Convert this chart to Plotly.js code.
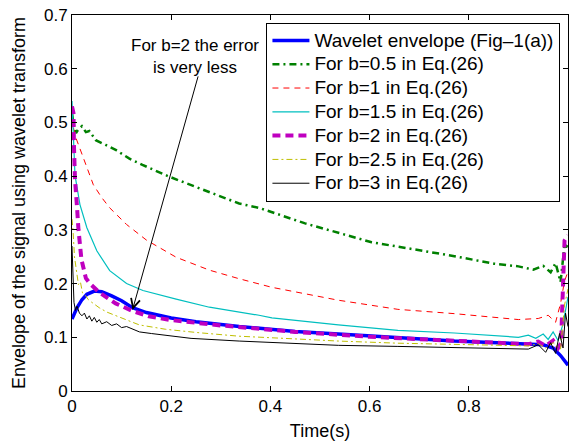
<!DOCTYPE html>
<html>
<head>
<meta charset="utf-8">
<script src="https://cdn.plot.ly/plotly-3.0.1.min.js"></script>
<style>html,body{margin:0;padding:0;background:#fff;}#chart{width:571px;height:443px;}</style>
</head>
<body>
<div id="chart"></div>
<script>
// ---- data ----
var legendNames = [
  "Wavelet envelope (Fig\u20131(a))",
  "For b=0.5 in Eq.(26)",
  "For b=1 in Eq.(26)",
  "For b=1.5 in Eq.(26)",
  "For b=2 in Eq.(26)",
  "For b=2.5 in Eq.(26)",
  "For b=3 in Eq.(26)"
];

var tWavelet = [0, 0.01, 0.02, 0.03, 0.045, 0.06, 0.08, 0.1, 0.122, 0.15, 0.2, 0.25, 0.337, 0.45, 0.537, 0.657, 0.771, 0.858, 0.92, 0.95, 0.97, 0.985, 1.0];
var vWavelet = [0.134, 0.155, 0.170, 0.180, 0.186, 0.185, 0.177, 0.168, 0.155, 0.146, 0.136, 0.129, 0.120, 0.111, 0.106, 0.099, 0.093, 0.090, 0.088, 0.086, 0.080, 0.066, 0.048];

var tB05 = [0, 0.003, 0.008, 0.012, 0.02, 0.028, 0.035, 0.048, 0.068, 0.088, 0.115, 0.142, 0.196, 0.277, 0.337, 0.377, 0.47, 0.604, 0.657, 0.771, 0.851, 0.9, 0.93, 0.95, 0.965, 0.975, 0.985, 0.993, 1.0];
var vB05 = [0.517, 0.498, 0.480, 0.486, 0.493, 0.482, 0.484, 0.467, 0.458, 0.449, 0.433, 0.421, 0.399, 0.371, 0.349, 0.341, 0.312, 0.277, 0.269, 0.251, 0.237, 0.232, 0.226, 0.233, 0.221, 0.238, 0.203, 0.272, 0.268];

var tB1 = [0, 0.003, 0.006, 0.016, 0.03, 0.043, 0.06, 0.076, 0.11, 0.15, 0.21, 0.277, 0.337, 0.403, 0.537, 0.657, 0.771, 0.851, 0.9, 0.94, 0.96, 0.975, 0.985, 0.993, 1.0];
var vB1 = [0.47, 0.49, 0.476, 0.451, 0.415, 0.384, 0.360, 0.341, 0.310, 0.281, 0.249, 0.225, 0.209, 0.193, 0.169, 0.152, 0.144, 0.137, 0.133, 0.135, 0.141, 0.128, 0.163, 0.205, 0.222];

var tB15 = [0, 0.003, 0.006, 0.016, 0.03, 0.05, 0.076, 0.11, 0.143, 0.21, 0.277, 0.377, 0.403, 0.537, 0.657, 0.771, 0.858, 0.9, 0.92, 0.935, 0.95, 0.96, 0.97, 0.98, 0.99, 1.0];
var vB15 = [0.54, 0.46, 0.402, 0.347, 0.304, 0.261, 0.224, 0.200, 0.187, 0.171, 0.156, 0.141, 0.136, 0.123, 0.113, 0.108, 0.102, 0.100, 0.104, 0.098, 0.106, 0.096, 0.110, 0.094, 0.125, 0.175];

var tB2 = [0, 0.003, 0.004, 0.006, 0.01, 0.013, 0.019, 0.028, 0.036, 0.056, 0.088, 0.122, 0.155, 0.2, 0.3, 0.45, 0.6, 0.75, 0.86, 0.92, 0.94, 0.955, 0.97, 0.98, 0.986, 0.993, 1.0];
var vB2 = [0.53, 0.517, 0.455, 0.394, 0.344, 0.301, 0.245, 0.210, 0.200, 0.183, 0.163, 0.149, 0.139, 0.132, 0.122, 0.110, 0.101, 0.094, 0.089, 0.087, 0.092, 0.084, 0.094, 0.080, 0.089, 0.280, 0.290];

var tB25 = [0, 0.002, 0.005, 0.01, 0.013, 0.017, 0.021, 0.027, 0.033, 0.04, 0.055, 0.07, 0.088, 0.122, 0.136, 0.188, 0.25, 0.337, 0.45, 0.537, 0.657, 0.771, 0.86, 0.92, 0.94, 0.955, 0.97, 0.985, 0.993, 1.0];
var vB25 = [0.32, 0.30, 0.25, 0.21, 0.198, 0.203, 0.183, 0.178, 0.170, 0.165, 0.155, 0.147, 0.140, 0.128, 0.123, 0.115, 0.109, 0.102, 0.097, 0.093, 0.089, 0.087, 0.085, 0.084, 0.088, 0.080, 0.090, 0.078, 0.160, 0.190];

var tB3 = [0, 0.002, 0.004, 0.007, 0.01, 0.015, 0.02, 0.025, 0.03, 0.035, 0.04, 0.045, 0.05, 0.055, 0.06, 0.07, 0.08, 0.09, 0.1, 0.11, 0.122, 0.136, 0.16, 0.188, 0.24, 0.337, 0.45, 0.537, 0.657, 0.771, 0.858, 0.92, 0.94, 0.955, 0.965, 0.975, 0.983, 0.99, 0.995, 1.0];
var vB3 = [0.27, 0.20, 0.165, 0.150, 0.158, 0.145, 0.140, 0.145, 0.134, 0.140, 0.130, 0.137, 0.128, 0.133, 0.125, 0.129, 0.122, 0.125, 0.118, 0.120, 0.115, 0.110, 0.107, 0.104, 0.098, 0.093, 0.088, 0.085, 0.083, 0.081, 0.079, 0.078, 0.086, 0.072, 0.090, 0.070, 0.107, 0.080, 0.145, 0.120];

var xTickVals = [0, 0.2, 0.4, 0.6, 0.8, 1];
var xTickText = ["0", "0.2", "0.4", "0.6", "0.8", "1"];
var yTickVals = [0, 0.1, 0.2, 0.3, 0.4, 0.5, 0.6, 0.7];
var yTickText = ["0", "0.1", "0.2", "0.3", "0.4", "0.5", "0.6", "0.7"];

var arrowPoint = {t: 0.122, v: 0.151};
var noteText = "For b=2 the error<br>is very less";

// ---- traces ----
var FONT = "'Liberation Sans', Arial, Helvetica, sans-serif";
function big(s) { return '<span style="font-size:19px">' + s + '</span>'; }
var traces = [
  {x: tWavelet, y: vWavelet, name: big(legendNames[0]), mode: "lines", line: {color: "#0000ff", width: 3.5}},
  {x: tB05, y: vB05, name: big(legendNames[1]), mode: "lines", line: {color: "#008000", width: 2.5, dash: "7px,4px,2px,4px"}},
  {x: tB1, y: vB1, name: big(legendNames[2]), mode: "lines", line: {color: "#ff0000", width: 1, dash: "6px,5px"}},
  {x: tB15, y: vB15, name: big(legendNames[3]), mode: "lines", line: {color: "#00bfbf", width: 1.2}},
  {x: tB2, y: vB2, name: big(legendNames[4]), mode: "lines", line: {color: "#bf00bf", width: 4, dash: "8px,5px"}},
  {x: tB25, y: vB25, name: big(legendNames[5]), mode: "lines", line: {color: "#bfbf00", width: 1, dash: "6px,3px,2px,3px"}},
  {x: tB3, y: vB3, name: big(legendNames[6]), mode: "lines", line: {color: "#000000", width: 1}}
];

var layout = {
  width: 571, height: 443,
  margin: {l: 72, r: 3, t: 15, b: 52, pad: 0},
  paper_bgcolor: "#ffffff", plot_bgcolor: "#ffffff",
  font: {family: FONT, size: 17, color: "#000"},
  showlegend: true,
  legend: {
    x: 0.392, y: 0.98, xanchor: "left", yanchor: "top",
    bgcolor: "#ffffff", bordercolor: "#000000", borderwidth: 1,
    font: {family: FONT, size: 16, color: "#000"},
    itemwidth: 37,
    tracegroupgap: 0
  },
  xaxis: {
    range: [0, 1], tickvals: xTickVals, ticktext: xTickText,
    ticks: "inside", ticklen: 5, tickcolor: "#000", tickwidth: 1,
    showline: true, linecolor: "#000", linewidth: 1, mirror: "ticks",
    showgrid: false, zeroline: false,
    tickfont: {family: FONT, size: 17, color: "#000"},
    title: {text: "Time(s)", font: {family: FONT, size: 18, color: "#000"}, standoff: 8}
  },
  yaxis: {
    range: [0, 0.7], tickvals: yTickVals, ticktext: yTickText,
    ticks: "inside", ticklen: 5, tickcolor: "#000", tickwidth: 1,
    showline: true, linecolor: "#000", linewidth: 1, mirror: "ticks",
    showgrid: false, zeroline: false,
    tickfont: {family: FONT, size: 17, color: "#000"},
    title: {text: "Envelope of the signal using wavelet transform", font: {family: FONT, size: 18, color: "#000"}, standoff: 13}
  },
  annotations: [
    {x: 0.2475, y: 0.89, xref: "paper", yref: "paper", text: noteText, showarrow: false,
     font: {family: FONT, size: 17, color: "#000"}, align: "center", xanchor: "center", yanchor: "middle"},
    {x: arrowPoint.t, y: arrowPoint.v, xref: "x", yref: "y", text: "", showarrow: true,
     ax: 66, ay: -235, arrowhead: 5, arrowsize: 1.8, arrowwidth: 1, arrowcolor: "#000"}
  ]
};

Plotly.newPlot("chart", traces, layout, {staticPlot: true, displayModeBar: false});
</script>
</body>
</html>
